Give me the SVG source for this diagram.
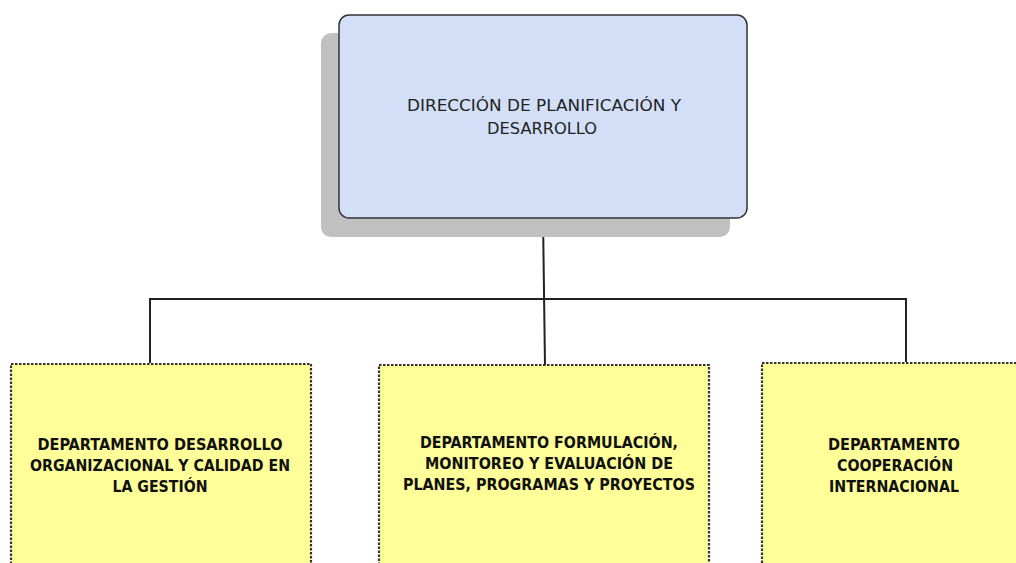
<svg xmlns="http://www.w3.org/2000/svg" width="1016" height="563" viewBox="0 0 1016 563">
<style>
.top{fill:#d3dff7;stroke:#333;stroke-width:1.5}
.shadow{fill:#c0c0c0}
.dept{fill:#ffff99;stroke:#333;stroke-width:2.2;stroke-dasharray:2.5 1.5}
.conn{fill:none;stroke:#222;stroke-width:2}
.t1{font-family:"DejaVu Sans Condensed","DejaVu Sans",sans-serif;font-size:16px;fill:#222;text-anchor:middle}
.t2{font-family:"DejaVu Sans Condensed","DejaVu Sans",sans-serif;font-size:15px;font-weight:bold;fill:#111;text-anchor:middle}
</style>
<rect width="1016" height="563" fill="#fff"/>
<g id="connectors">
<line class="conn" x1="543" y1="218" x2="545" y2="365"/>
<polyline class="conn" points="150,363 150,299 906,299 906,362"/>
</g>
<g id="direccion">
<rect class="shadow" x="321" y="33" width="409" height="204" rx="10"/>
<rect class="top" x="339" y="15" width="408" height="203" rx="10"/>
<text class="t1" x="544" y="111" textLength="274" lengthAdjust="spacingAndGlyphs">DIRECCIÓN DE PLANIFICACIÓN Y</text>
<text class="t1" x="542" y="134" textLength="110" lengthAdjust="spacingAndGlyphs">DESARROLLO</text>
</g>
<g id="dept-desarrollo">
<rect class="dept" x="11" y="364" width="300" height="210"/>
<text class="t2" x="160" y="450" textLength="245" lengthAdjust="spacingAndGlyphs">DEPARTAMENTO DESARROLLO</text>
<text class="t2" x="160" y="471" textLength="260" lengthAdjust="spacingAndGlyphs">ORGANIZACIONAL Y CALIDAD EN</text>
<text class="t2" x="160" y="492" textLength="95" lengthAdjust="spacingAndGlyphs">LA GESTIÓN</text>
</g>
<g id="dept-formulacion">
<rect class="dept" x="379" y="365" width="330" height="210"/>
<text class="t2" x="549" y="448" textLength="258" lengthAdjust="spacingAndGlyphs">DEPARTAMENTO FORMULACIÓN,</text>
<text class="t2" x="549" y="469" textLength="248" lengthAdjust="spacingAndGlyphs">MONITOREO Y EVALUACIÓN DE</text>
<text class="t2" x="549" y="490" textLength="292" lengthAdjust="spacingAndGlyphs">PLANES, PROGRAMAS Y PROYECTOS</text>
</g>
<g id="dept-cooperacion">
<rect class="dept" x="762" y="363" width="270" height="210"/>
<text class="t2" x="894" y="450" textLength="132" lengthAdjust="spacingAndGlyphs">DEPARTAMENTO</text>
<text class="t2" x="895" y="471" textLength="116" lengthAdjust="spacingAndGlyphs">COOPERACIÓN</text>
<text class="t2" x="894" y="492" textLength="130" lengthAdjust="spacingAndGlyphs">INTERNACIONAL</text>
</g>
</svg>
